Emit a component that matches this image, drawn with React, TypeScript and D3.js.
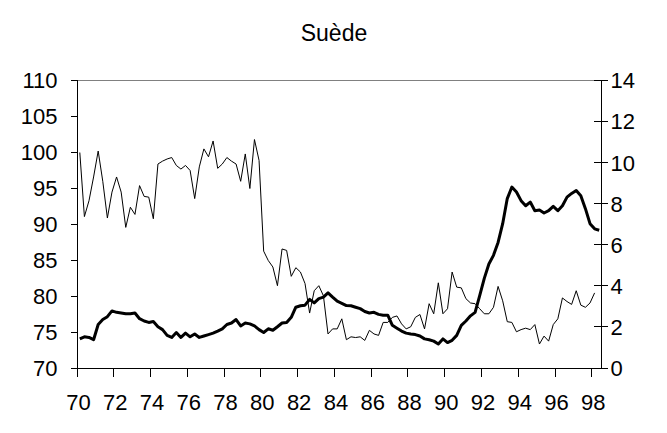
import React from "react";
import * as d3 from "d3";

const title = "Suède";
const xTickLabels = ["70","72","74","76","78","80","82","84","86","88","90","92","94","96","98"];
const leftTicks = [70, 75, 80, 85, 90, 95, 100, 105, 110];
const rightTicks = [0, 2, 4, 6, 8, 10, 12, 14];

// quarterly, 1970Q1 onwards; thin series on left axis
const thinSeries = [
  100.0, 91.1, 93.3, 96.6, 100.2, 96.0, 90.9, 94.5, 96.6, 94.5,
  89.6, 92.4, 91.4, 95.4, 93.9, 93.8, 90.8, 98.4, 98.8, 99.1,
  99.3, 98.2, 97.7, 98.2, 97.5, 93.6, 98.0, 100.5, 99.4, 101.6,
  97.8, 98.4, 99.3, 98.8, 98.4, 96.0, 99.8, 95.0, 101.8, 98.9,
  86.3, 85.0, 84.1, 81.5, 86.6, 86.4, 82.8, 84.0, 83.4, 81.8,
  77.7, 80.8, 81.5, 80.1, 74.8, 75.5, 75.5, 76.9, 74.0, 74.4,
  74.3, 74.4, 73.9, 75.3, 74.8, 74.6, 76.4, 76.4, 77.1, 77.3,
  76.2, 75.5, 75.8, 77.1, 77.5, 75.5, 79.0, 77.6, 81.9, 77.6,
  78.3, 83.4, 81.3, 81.2, 79.7, 79.1, 79.0, 78.3, 77.6, 77.6,
  78.5, 81.4, 79.4, 76.5, 76.4, 75.1, 75.4, 75.6, 75.4, 76.1,
  73.4, 74.5, 73.8, 76.1, 76.9, 79.8, 79.3, 78.9, 80.8, 78.8,
  78.5, 79.1, 80.5,
];

// quarterly, 1970Q1 onwards; thick series on right axis
const thickSeries = [
  1.44, 1.54, 1.51, 1.40, 2.14, 2.38, 2.52, 2.80, 2.73, 2.70,
  2.66, 2.66, 2.70, 2.42, 2.31, 2.24, 2.28, 2.03, 1.89, 1.61,
  1.51, 1.75, 1.51, 1.72, 1.54, 1.68, 1.51, 1.58, 1.65, 1.72,
  1.82, 1.93, 2.14, 2.21, 2.38, 2.07, 2.21, 2.17, 2.07, 1.89,
  1.75, 1.93, 1.86, 2.03, 2.21, 2.24, 2.49, 2.98, 3.05, 3.08,
  3.36, 3.19, 3.40, 3.47, 3.68, 3.47, 3.27, 3.17, 3.06, 3.05,
  2.98, 2.91, 2.77, 2.70, 2.73, 2.63, 2.59, 2.59, 2.10, 1.96,
  1.82, 1.72, 1.68, 1.65, 1.58, 1.44, 1.40, 1.33, 1.19, 1.44,
  1.26, 1.37, 1.61, 2.10, 2.31, 2.56, 2.73, 3.54, 4.38, 5.08,
  5.50, 6.13, 7.04, 8.26, 8.82, 8.58, 8.16, 7.91, 8.09, 7.67,
  7.70, 7.56, 7.67, 7.88, 7.67, 7.91, 8.33, 8.51, 8.65, 8.40,
  7.77, 7.04, 6.79, 6.72,
];

const W = 667, H = 433;
const L = 77.5, R = 601.5, T = 80.5, B = 368.5;
const nCats = 114;
const font = "'Liberation Sans', Arial, sans-serif";

export default function App() {
  const x = d3.scaleLinear().domain([0, nCats]).range([L, R]);
  const yL = d3.scaleLinear().domain([70, 110]).range([B, T]);
  const yR = d3.scaleLinear().domain([0, 14]).range([B, T]);

  const thinLine = d3.line<number>().x((_, i) => x(i + 0.5)).y((d) => yL(d));
  const thickLine = d3.line<number>().x((_, i) => x(i + 0.5)).y((d) => yR(d));

  return (
    <div style={{ position: "absolute", left: 0, top: 0 }}>
      <svg width={W} height={H} style={{ display: "block", background: "#fff" }} fontFamily={font}>
        <text x={334} y={41} fontSize={23} textAnchor="middle" fill="#000">{title}</text>

        {/* top border */}
        <line x1={L} x2={R} y1={T} y2={T} stroke="#808080" strokeWidth={1} shapeRendering="crispEdges" />

        {/* left axis */}
        <line x1={L} x2={L} y1={T} y2={B} stroke="#000" shapeRendering="crispEdges" />
        {leftTicks.map((t) => (
          <g key={"l" + t}>
            <line x1={L - 7} x2={L} y1={Math.round(yL(t)) + 0.5 - 1} y2={Math.round(yL(t)) + 0.5 - 1} stroke="#000" shapeRendering="crispEdges" />
            <text x={57.5} y={yL(t) + 7.8} fontSize={22} textAnchor="end" fill="#000">{t}</text>
          </g>
        ))}

        {/* right axis */}
        <line x1={R} x2={R} y1={T} y2={B} stroke="#000" shapeRendering="crispEdges" />
        {rightTicks.map((t) => (
          <g key={"r" + t}>
            <line x1={R - 8} x2={R + 6} y1={Math.round(yR(t)) + 0.5 - 1} y2={Math.round(yR(t)) + 0.5 - 1} stroke="#000" shapeRendering="crispEdges" />
            <text x={610.5} y={yR(t) + 7.8} fontSize={22} textAnchor="start" fill="#000">{t}</text>
          </g>
        ))}

        {/* bottom axis */}
        <line x1={L} x2={R} y1={B} y2={B} stroke="#000" shapeRendering="crispEdges" />
        {xTickLabels.map((lab, k) => {
          const xx = Math.round(x(k * 8)) + 0.5 - 1;
          return (
            <g key={"x" + lab}>
              <line x1={xx} x2={xx} y1={B} y2={B + 8} stroke="#000" shapeRendering="crispEdges" />
              <text x={x(k * 8) + 1} y={410} fontSize={22} textAnchor="middle" fill="#000">{lab}</text>
            </g>
          );
        })}

        <path d={thinLine(thinSeries) || ""} fill="none" stroke="#000" strokeWidth={1} />
        <path d={thickLine(thickSeries) || ""} fill="none" stroke="#000" strokeWidth={3} strokeLinejoin="round" />
      </svg>
    </div>
  );
}
